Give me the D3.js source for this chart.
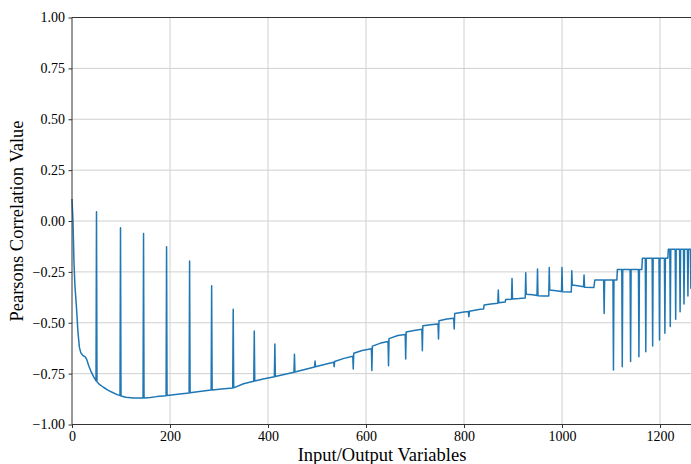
<!DOCTYPE html>
<html>
<head>
<meta charset="utf-8">
<script src="https://cdn.jsdelivr.net/npm/d3@7"></script>
<style>
  body { margin: 0; background: #fff; }
  svg { display: block; font-family: "Liberation Serif", "Times New Roman", serif; }
  .grid line { stroke: #d0d0d0; stroke-width: 1; }
  .axis path { display: none; }
  .axis line { stroke: #333; }
</style>
</head>
<body>
<div id="chart"></div>
<script>
// baseline of the correlation curve (variable index, value)
var baseX = [0, 2, 4, 6, 9, 12, 15, 18, 22, 27, 30, 34, 38, 44, 49, 51, 56, 64, 74, 84, 92, 98, 100, 110, 125, 145, 147, 160, 173, 192, 194, 220, 239, 241, 260, 284, 286, 305, 328, 330, 350, 371, 373, 390, 413, 415, 435, 453, 455, 475, 495, 497, 515, 534, 536, 555, 573, 575, 592, 611, 613, 630, 645, 647, 665, 680, 682, 698, 714, 716, 732, 747, 749, 765, 779, 781, 800, 809, 811, 833, 840, 841, 855, 869, 871, 884, 885, 897, 899, 912, 925, 927, 940, 949, 951, 962, 973, 975, 988, 999, 1001, 1019, 1021, 1032, 1044, 1046, 1065, 1067, 1085, 1087, 1104, 1106, 1112, 1113, 1122, 1124, 1139, 1141, 1156, 1158, 1163, 1164, 1170, 1172, 1184, 1186, 1198, 1200, 1209, 1211, 1216, 1217, 1220, 1222, 1231, 1233, 1240, 1242, 1248, 1250, 1256, 1258, 1262, 1264];
var baseY = [0.108, 0.0, -0.2, -0.32, -0.42, -0.54, -0.62, -0.648, -0.66, -0.668, -0.68, -0.71, -0.735, -0.765, -0.785, -0.79, -0.803, -0.817, -0.832, -0.844, -0.853, -0.858, -0.86, -0.866, -0.87, -0.87, -0.87, -0.867, -0.863, -0.859, -0.858, -0.85, -0.845, -0.844, -0.838, -0.831, -0.83, -0.826, -0.821, -0.82, -0.8, -0.787, -0.786, -0.776, -0.765, -0.764, -0.753, -0.743, -0.742, -0.73, -0.717, -0.716, -0.705, -0.694, -0.69, -0.675, -0.665, -0.65, -0.636, -0.628, -0.615, -0.6, -0.592, -0.578, -0.563, -0.558, -0.545, -0.538, -0.532, -0.515, -0.51, -0.506, -0.49, -0.482, -0.478, -0.455, -0.447, -0.445, -0.443, -0.434, -0.432, -0.413, -0.408, -0.404, -0.402, -0.398, -0.386, -0.384, -0.383, -0.381, -0.378, -0.36, -0.362, -0.366, -0.367, -0.368, -0.368, -0.339, -0.343, -0.347, -0.348, -0.349, -0.314, -0.318, -0.323, -0.325, -0.327, -0.29, -0.29, -0.29, -0.29, -0.29, -0.29, -0.238, -0.238, -0.238, -0.238, -0.238, -0.238, -0.238, -0.238, -0.183, -0.183, -0.183, -0.183, -0.183, -0.183, -0.183, -0.183, -0.183, -0.183, -0.139, -0.139, -0.139, -0.139, -0.139, -0.139, -0.139, -0.139, -0.139, -0.139, -0.139, -0.139, -0.139];

// single-variable spikes off the baseline
var spikeX = [50, 99, 146, 193, 240, 285, 329, 372, 414, 454, 496, 535, 574, 612, 646, 681, 715, 748, 780, 810, 870, 898, 926, 950, 974, 1000, 1020, 1045, 1086, 1105, 1123, 1140, 1157, 1171, 1185, 1199, 1210, 1221, 1232, 1241, 1249, 1257, 1263];
var spikeY = [0.046, -0.033, -0.062, -0.126, -0.197, -0.318, -0.434, -0.541, -0.604, -0.655, -0.688, -0.716, -0.727, -0.735, -0.711, -0.678, -0.637, -0.58, -0.531, -0.47, -0.339, -0.282, -0.254, -0.236, -0.229, -0.229, -0.244, -0.265, -0.454, -0.732, -0.716, -0.691, -0.667, -0.642, -0.614, -0.585, -0.552, -0.519, -0.483, -0.446, -0.408, -0.369, -0.331];

var xTicks = [0, 200, 400, 600, 800, 1000, 1200];
var yTicks = [-1, -0.75, -0.5, -0.25, 0, 0.25, 0.5, 0.75, 1];

var width = 691, height = 464;
var plotLeft = 72, plotTop = 17.5, plotBottom = 424.5;
var serif = "'Liberation Serif', 'Times New Roman', serif";

var pts = baseX.map(function(x, i){ return {x: x, y: baseY[i]}; })
  .concat(spikeX.map(function(x, i){ return {x: x, y: spikeY[i]}; }))
  .sort(function(a, b){ return a.x - b.x; });

var svg = d3.select("#chart").append("svg")
  .attr("width", width)
  .attr("height", height);

var x = d3.scaleLinear().domain([0, 1266]).range([plotLeft, plotLeft + 1266 * 0.49]);
var y = d3.scaleLinear().domain([-1, 1]).range([plotBottom, plotTop]);

// grid
var grid = svg.append("g").attr("class", "grid");
grid.selectAll(".gx").data(xTicks.slice(1)).enter().append("line")
  .attr("x1", function(d){ return x(d); }).attr("x2", function(d){ return x(d); })
  .attr("y1", plotTop).attr("y2", plotBottom);
grid.selectAll(".gy").data(yTicks.slice(1, -1)).enter().append("line")
  .attr("x1", plotLeft).attr("x2", width)
  .attr("y1", function(d){ return y(d); }).attr("y2", function(d){ return y(d); });

// the curve
var line = d3.line()
  .x(function(d){ return x(d.x); })
  .y(function(d){ return y(d.y); });

svg.append("path")
  .datum(pts)
  .attr("fill", "none")
  .attr("stroke", "#1f77b4")
  .attr("stroke-width", 1.5)
  .attr("stroke-linejoin", "round")
  .attr("d", line);

// axes
svg.append("g").attr("class", "axis")
  .attr("transform", "translate(0," + plotBottom + ")")
  .call(d3.axisBottom(x).tickValues(xTicks).tickFormat(d3.format("d")).tickSize(3.5).tickPadding(3.5));

svg.append("g").attr("class", "axis")
  .attr("transform", "translate(" + plotLeft + ",0)")
  .call(d3.axisLeft(y).tickValues(yTicks).tickFormat(d3.format(".2f")).tickSize(3.5).tickPadding(3.5));

svg.selectAll(".axis text")
  .attr("fill", "#000")
  .style("font-family", serif)
  .style("font-size", "14px");

// spines
svg.append("line").attr("x1", plotLeft).attr("x2", plotLeft).attr("y1", plotTop).attr("y2", plotBottom)
  .attr("stroke", "#333").attr("stroke-width", 1);
svg.append("line").attr("x1", plotLeft).attr("x2", width).attr("y1", plotTop).attr("y2", plotTop)
  .attr("stroke", "#333").attr("stroke-width", 1);
svg.append("line").attr("x1", plotLeft).attr("x2", width).attr("y1", plotBottom).attr("y2", plotBottom)
  .attr("stroke", "#333").attr("stroke-width", 1);

// labels
svg.append("text")
  .attr("x", 382).attr("y", 461)
  .attr("text-anchor", "middle")
  .style("font-size", "18.5px")
  .text("Input/Output Variables");

svg.append("text")
  .attr("transform", "translate(23," + ((plotTop + plotBottom) / 2) + ") rotate(-90)")
  .attr("text-anchor", "middle")
  .style("font-size", "18.5px")
  .text("Pearsons Correlation Value");
</script>
</body>
</html>
